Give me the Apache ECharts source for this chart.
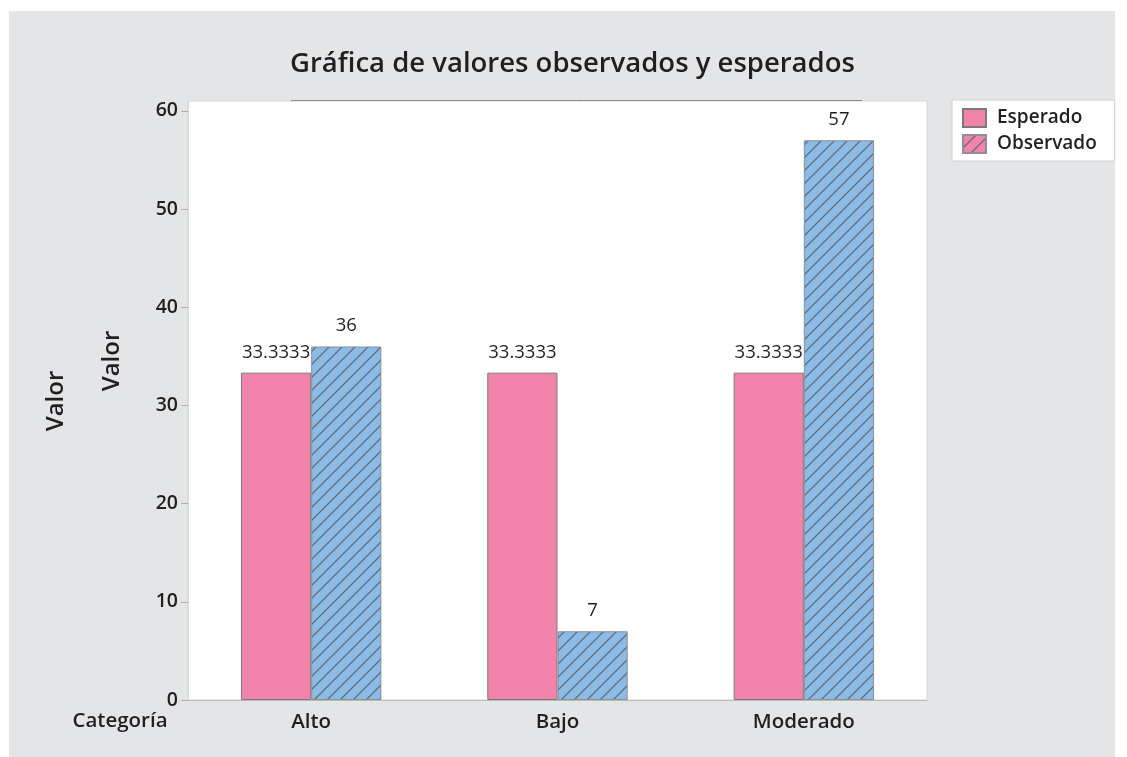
<!DOCTYPE html>
<html>
<head>
<meta charset="utf-8">
<script src="https://cdn.jsdelivr.net/npm/echarts@6/dist/echarts.min.js"></script>
<style>
  html, body { margin: 0; padding: 0; background: #fff; }
  #chart { width: 1127px; height: 757px; }
</style>
</head>
<body>
<div id="chart"></div>
<script>
const categories = ['Alto', 'Bajo', 'Moderado'];
const esperado = [33.3333, 33.3333, 33.3333];
const observado = [36, 7, 57];
const yTicks = [0, 10, 20, 30, 40, 50, 60];

const font = '"Open Sans", "Noto Sans", sans-serif';
const pink = '#f283ab';
const blue = '#8bbbe7';

// diagonal hatch used for the observed bars
function hatch(bg) {
    const s = 13;
    const c = document.createElement('canvas');
    c.width = s;
    c.height = s;
    const ctx = c.getContext('2d');
    ctx.fillStyle = bg;
    ctx.fillRect(0, 0, s, s);
    ctx.strokeStyle = '#676b73';
    ctx.lineWidth = 1.3;
    ctx.beginPath();
    ctx.moveTo(-1, s + 1); ctx.lineTo(s + 1, -1);
    ctx.moveTo(-3, 3); ctx.lineTo(3, -3);
    ctx.moveTo(s - 3, s + 3); ctx.lineTo(s + 3, s - 3);
    ctx.stroke();
    return {image: c, repeat: 'repeat'};
}

const myChart = echarts.init(document.getElementById('chart'));
const option = {
    animation: false,
    textStyle: {fontFamily: font},
    title: {
        text: 'Gráfica de valores observados y esperados',
        left: 290,
        top: 50,
        padding: 0,
        textStyle: {fontFamily: font, fontSize: 27.5, fontWeight: 600, color: '#231f20'}
    },
    graphic: [
        {type: 'rect', z: -100, silent: true, shape: {x: 9, y: 11, width: 1106, height: 746}, style: {fill: '#e4e5e7'}},
        {type: 'line', shape: {x1: 291, y1: 100.5, x2: 862, y2: 100.5}, style: {stroke: '#8a8a8a', lineWidth: 1}},
        {type: 'text', x: 56, y: 401, rotation: Math.PI / 2,
            style: {text: 'Valor', fontFamily: font, fontSize: 24, fontWeight: 600, fill: '#231f20', align: 'center', verticalAlign: 'middle'}},
        {type: 'text', x: 112, y: 361, rotation: Math.PI / 2,
            style: {text: 'Valor', fontFamily: font, fontSize: 24, fontWeight: 600, fill: '#231f20', align: 'center', verticalAlign: 'middle'}},
        {type: 'text', x: 120, y: 721,
            style: {text: 'Categoría', fontFamily: font, fontSize: 20.5, fontWeight: 600, fill: '#231f20', align: 'center', verticalAlign: 'middle'}}
    ],
    legend: {
        orient: 'vertical',
        left: 952,
        top: 100,
        backgroundColor: '#fff',
        borderColor: '#cfd0d2',
        borderWidth: 1,
        borderRadius: 0,
        padding: [8, 18, 7, 10],
        icon: 'rect',
        itemWidth: 23,
        itemHeight: 18,
        itemGap: 6,
        textStyle: {fontFamily: font, fontSize: 19, fontWeight: 600, color: '#231f20', padding: [0, 0, 0, 6]},
        data: [
            {name: 'Esperado'},
            {name: 'Observado', itemStyle: {color: hatch(pink)}}
        ]
    },
    grid: {
        left: 188,
        top: 101,
        right: 200,
        bottom: 57,
        show: true,
        backgroundColor: '#fff',
        borderColor: '#d6d7d9',
        borderWidth: 1
    },
    xAxis: {
        type: 'category',
        data: categories,
        axisLine: {lineStyle: {color: '#b9babc'}},
        axisTick: {alignWithLabel: true, length: 9, lineStyle: {color: '#8a8a8a'}},
        axisLabel: {fontFamily: font, fontSize: 20.5, fontWeight: 600, color: '#231f20', margin: 12}
    },
    yAxis: {
        type: 'value',
        min: 0,
        max: 61,
        interval: 10,
        splitLine: {show: false},
        axisLine: {show: true, lineStyle: {color: '#d6d7d9'}},
        axisTick: {show: true, length: 7, customValues: yTicks, lineStyle: {color: '#b0b1b3'}},
        axisLabel: {fontFamily: font, fontSize: 19.5, fontWeight: 600, color: '#231f20', margin: 10, customValues: yTicks}
    },
    series: [
        {
            name: 'Esperado',
            type: 'bar',
            data: esperado,
            barGap: '0%',
            barCategoryGap: '43%',
            itemStyle: {color: pink, borderColor: '#7a7a7a', borderWidth: 1},
            label: {show: true, position: 'top', distance: 10, fontFamily: font, fontSize: 18.5, color: '#231f20'}
        },
        {
            name: 'Observado',
            type: 'bar',
            data: observado,
            itemStyle: {color: hatch(blue), borderColor: '#8a8f98', borderWidth: 1},
            label: {show: true, position: 'top', distance: 11, fontFamily: font, fontSize: 18.5, color: '#231f20'}
        }
    ]
};
myChart.setOption(option);
</script>
</body>
</html>
